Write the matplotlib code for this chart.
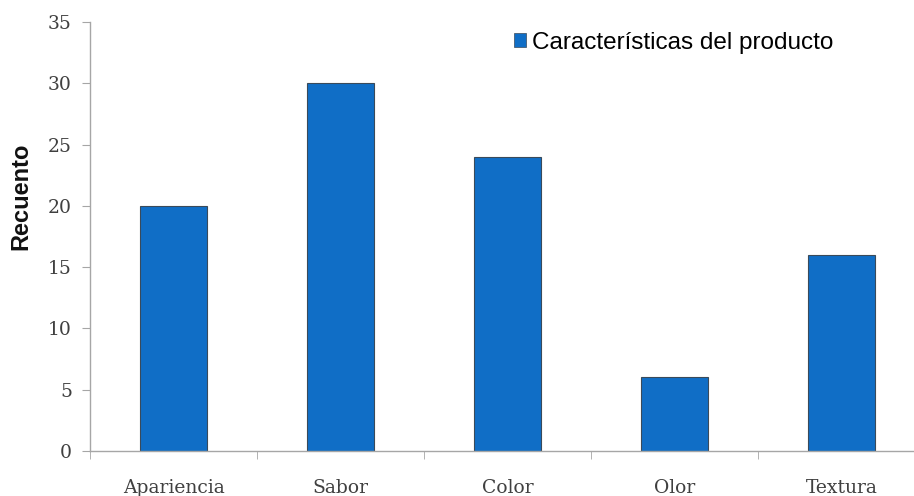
import matplotlib.pyplot as plt
from matplotlib.patches import Patch

categorias = ['Apariencia', 'Sabor', 'Color', 'Olor', 'Textura']
recuento = [20, 30, 24, 6, 16]
serie = 'Características del producto'

azul = '#106EC6'
gris = '#A6A6A6'

fig = plt.figure(figsize=(9.14, 4.96), dpi=100)
# the category axis runs a little past the right edge of the figure
ax = fig.add_axes([90 / 914, 1 - 451 / 496, 835 / 914, 429 / 496])

x = range(len(categorias))
ax.bar(x, recuento, width=0.4, color=azul, edgecolor='#3A4A5A', linewidth=0.8)

ax.set_xlim(-0.5, len(categorias) - 0.5)
ax.set_ylim(0, 35)
ax.set_yticks(range(0, 36, 5))
ax.set_xticks(x)
ax.set_xticklabels(categorias)
ax.set_xticks([i + 0.5 for i in range(-1, len(categorias))], minor=True)

for s in ['top', 'right']:
    ax.spines[s].set_visible(False)
for s in ['left', 'bottom']:
    ax.spines[s].set_color(gris)
    ax.spines[s].set_linewidth(1.0)

ax.tick_params(axis='x', which='major', length=0, pad=20)
ax.tick_params(axis='x', which='minor', length=6, color=gris, direction='out')
ax.tick_params(axis='y', length=6, color=gris, direction='out', pad=7)
for lab in ax.get_xticklabels() + ax.get_yticklabels():
    lab.set_fontfamily('DejaVu Serif')
    lab.set_fontsize(13.5)
    lab.set_color('#404040')

ax.set_ylabel('Recuento', fontfamily='Liberation Sans', fontweight='bold',
              fontsize=17, color='#111111', va='center')
ax.yaxis.set_label_coords((21 - 90) / 835, (451 - 196) / 429)

handle = Patch(facecolor=azul, edgecolor='#3A4A5A', linewidth=0.5)
fig.legend([handle], [serie], loc='center left', bbox_to_anchor=(514 / 914, 1 - 43 / 496),
           frameon=False, prop={'family': 'Liberation Sans', 'size': 17.5},
           handlelength=0.5, handleheight=0.5, handletextpad=0.25,
           borderpad=0, borderaxespad=0)

fig.savefig('out.png', dpi=100)
